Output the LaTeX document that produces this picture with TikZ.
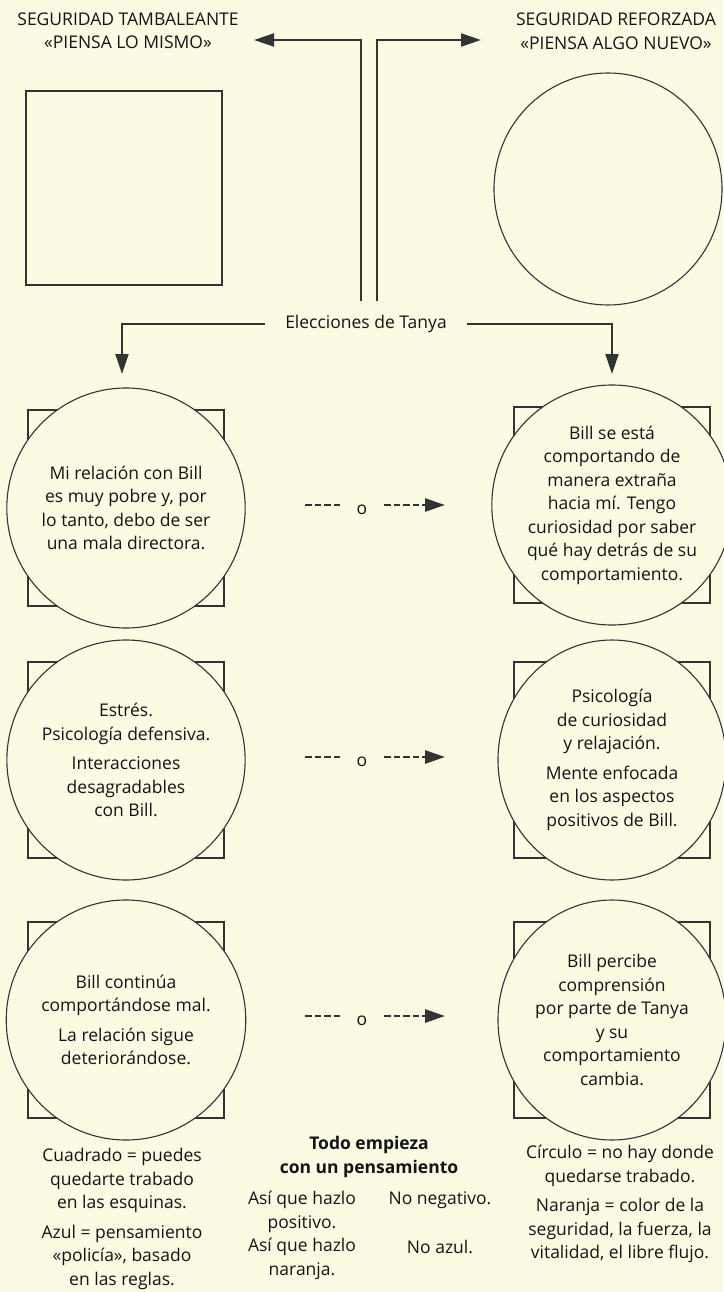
\documentclass[tikz,border=0pt]{standalone}
\usepackage{fontspec}
\setmainfont{Open Sans}
\usepackage{xcolor}
\usepackage{tikz}
\usetikzlibrary{positioning,arrows.meta,calc,shapes.geometric}
\definecolor{pPaper}{HTML}{FBFBE4}
\definecolor{pInk}{HTML}{141414}
\definecolor{pLine}{HTML}{333333}
\tikzset{
 sqbox/.style={draw=pLine, line width=1.3pt, minimum width=196pt, minimum height=196pt, inner sep=0pt},
 ringnode/.style={ellipse, draw=pLine, line width=1.1pt, fill=pPaper, inner sep=0pt, align=center, text=pInk},
 txt/.style={align=center, text=pInk, inner sep=0pt},
 bigtip/.style={-{Stealth[length=20pt,width=13pt,inset=0pt]}},
 tline/.style={bigtip, draw=pLine, line width=2pt},
 dashline/.style={draw=pLine, line width=2.8pt, dash pattern=on 6.5pt off 3pt},
}
\newcommand{\ringbox}[6]{%
 \node[sqbox] (#3sq) at (#1,#2) {};%
 \node[ringnode, minimum width=#4pt, minimum height=#5pt] (#3) at (#1,#2) {#6};}
\newcommand{\orarrow}[2]{%
 \coordinate (#1a) at (305,#2-3);%
 \coordinate (#1b) at (445,#2-3);%
 \node[txt, inner xsep=17pt] (#1o) at (362,#2+2) {o};%
 \draw[dashline] (#1a) -- (#1o.west |- #1a);%
 \draw[dashline, bigtip] (#1o.east |- #1b) -- (#1b);}

\begin{document}
\begin{tikzpicture}[x=1pt, y=-1pt, font=\fontsize{17.5}{23.5}\selectfont]
\fill[pPaper] (0,0) rectangle (723,1292);
\useasboundingbox (0,0) rectangle (723,1292);
\node[txt] (hleft) at (128,31) {SEGURIDAD TAMBALEANTE\\«PIENSA LO MISMO»};
\node[txt] (hright) at (616,31) {SEGURIDAD REFORZADA\\«PIENSA ALGO NUEVO»};
\node[sqbox, minimum height=194pt] (topsq) at (124,188) {};
\node[ringnode, minimum width=228pt, minimum height=232pt] (topring) at (608,189) {};
\coordinate (tla) at (361,301);
\coordinate (tlb) at (254,40);
\coordinate (tra) at (377,301);
\coordinate (trb) at (481,40);
\draw[tline] (tla) |- (tlb);
\draw[tline] (tra) |- (trb);
\node[txt, inner xsep=20pt] (elec) at (366,324) {Elecciones de Tanya};
\coordinate (lft) at (122,374);
\coordinate (rgt) at (612,374);
\draw[tline] (elec.west) -| (lft);
\draw[tline] (elec.east) -| (rgt);
\ringbox{126}{508}{lone}{236}{240}{Mi relación con Bill\\es muy pobre y, por\\lo tanto, debo de ser\\una mala directora.}
\ringbox{612}{505}{rone}{228}{240}{Bill se está\\comportando de\\manera extraña\\hacia mí. Tengo\\curiosidad por saber\\qué hay detrás de su\\comportamiento.}
\orarrow{ao}{508}
\ringbox{126}{760}{ltwo}{236}{240}{Estrés.\\Psicología defensiva.\\[6pt]Interacciones\\desagradables\\con Bill.}
\ringbox{612}{760}{rtwo}{228}{240}{Psicología\\de curiosidad\\y relajación.\\[6pt]Mente enfocada\\en los aspectos\\positivos de Bill.}
\orarrow{at}{760}
\ringbox{126}{1020}{lthree}{236}{240}{Bill continúa\\comportándose mal.\\[6pt]La relación sigue\\deteriorándose.}
\ringbox{612}{1020}{rthree}{228}{240}{Bill percibe\\comprensión\\por parte de Tanya\\y su\\comportamiento\\cambia.}
\orarrow{ah}{1019}
\node[txt] (legl) at (122,1219) {Cuadrado = puedes\\quedarte trabado\\en las esquinas.\\[6pt]Azul = pensamiento\\«policía», basado\\en las reglas.};
\node[txt, font=\fontsize{17.5}{23.5}\selectfont\bfseries] (title) at (369,1157) {Todo empieza\\con un pensamiento};
\node[txt] (sone) at (302,1212) {Así que hazlo\\positivo.};
\node[txt] (nneg) at (440,1200) {No negativo.};
\node[txt] (stwo) at (302,1259) {Así que hazlo\\naranja.};
\node[txt] (nazul) at (440,1247) {No azul.};
\node[txt] (legr) at (620,1204) {Círculo = no hay donde\\quedarse trabado.\\[6pt]Naranja = color de la\\seguridad, la fuerza, la\\vitalidad, el libre flujo.};
\end{tikzpicture}
\end{document}
